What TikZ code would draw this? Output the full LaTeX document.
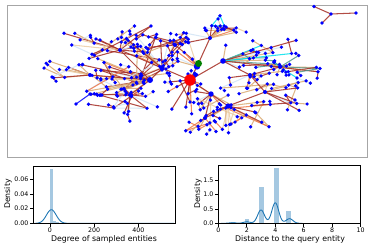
\documentclass[tikz,border=0pt]{standalone}
\usepackage{fontspec}
\setmainfont{DejaVu Sans}
\definecolor{ebrown}{RGB}{165,45,35}
\definecolor{etan}{RGB}{218,170,115}
\definecolor{elt}{RGB}{235,205,165}
\definecolor{eorange}{RGB}{240,120,70}
\definecolor{eteal}{RGB}{80,150,140}
\definecolor{ecyan}{RGB}{0,225,235}
\definecolor{eblue}{RGB}{210,228,245}
\definecolor{cz}{RGB}{31,119,180}
\definecolor{cbar}{RGB}{165,200,225}
\definecolor{gnode}{RGB}{0,128,0}
\begin{document}
\begin{tikzpicture}[x=1pt,y=-1pt,
  edge/.style={line width=1.05pt,draw opacity=0.85},
  dot/.style={circle,fill=blue,inner sep=0pt,minimum size=3.7pt},
  spine/.style={line width=0.6pt},
  ticks/.style={font=\fontsize{6.3}{7}\selectfont},
  lab/.style={font=\fontsize{7.8}{9}\selectfont}]
\useasboundingbox (0,0) rectangle (371,247);
\draw[gray!70,line width=0.9pt] (7,5) rectangle (367,157);
\pgfmathdeclarerandomlist{pal0}{{ebrown}{ebrown}{ebrown}{ebrown}{ebrown}{ebrown}{ebrown}{etan}{etan}{etan}{etan}{etan}{etan}{etan}{elt}{elt}{eorange}{eblue}{eblue}}
\pgfmathdeclarerandomlist{pal1}{{ebrown}{ebrown}{ebrown}{etan}{etan}{etan}{eteal}{eteal}{eteal}{eteal}{ecyan}{ecyan}{eblue}{eblue}}
\pgfmathdeclarerandomlist{pal2}{{ebrown}{ebrown}{ebrown}{ebrown}{etan}{etan}{etan}{eorange}{eorange}{eorange}{eorange}{elt}{elt}{eblue}}
\pgfmathsetseed{31}
\def\hublist{A/150/80/115/80/34/55/22/0,
 B/162/68/140/58/26/40/24/0,
 C/190/80/190/88/16/25/24/0,
 N/197/66.5/180/50/10/20/15/0,
 D/210/38/212/29/14/28/4/0,
 E/223/61/262/52/20/40/14/1,
 F/211/94/205/106/14/25/20/0,
 G/228/106/235/120/20/35/20/2,
 H/280/67/292/66/18/32/14/1,
 I/120/50/105/46/18/45/18/0,
 J/130/95/120/100/18/38/14/0,
 K/90/75/58/74/10/22/14/0,
 L/175/45/165/40/12/28/12/0,
 M/265/92/285/98/12/35/14/0,
 O/250/75/250/80/12/35/12/0,
 P/205/118/200/130/8/25/10/2}
% edges: each leaf hangs from the hub or from an earlier leaf of its group
\foreach \h/\hx/\hy/\cx/\cy/\n/\sx/\sy/\p in \hublist {
  \coordinate (h\h) at (\hx,\hy);
  \foreach \j in {1,...,\n}{
    \pgfmathsetmacro\px{max(36,min(320,\cx+\sx*(rand+rand)*0.65))}
    \pgfmathsetmacro\py{max(26,min(142,\cy+\sy*(rand+rand)*0.65))}
    \pgfmathrandomitem{\ec}{pal\p}
    \coordinate (l\h-\j) at (\px,\py);
    \pgfmathsetmacro\rr{rnd}
    \def\prt{h\h}
    \ifnum\j>1
      \ifdim\rr pt>0.6pt
        \pgfmathtruncatemacro\jm{\j-1}
        \pgfmathrandominteger{\kk}{1}{\jm}
        \edef\prt{l\h-\kk}
      \fi
    \fi
    \draw[edge,draw=\ec] (\prt) -- (l\h-\j);
  }
  \foreach \j in {3,6,...,\n}{
    \pgfmathsetmacro\qx{12*rand}
    \pgfmathsetmacro\qy{8*rand}
    \pgfmathrandomitem{\ec}{pal\p}
    \path (l\h-\j) ++(\qx,\qy) coordinate (s\h-\j);
    \draw[edge,draw=\ec] (l\h-\j) -- (s\h-\j);
  }
}
% hub to hub edges
\foreach \a/\b in {A/B,B/C,C/N,N/D,C/E,C/F,F/G,E/H,E/O,O/H,O/M,G/M,A/J,A/I,B/L,K/A,I/B,L/D,F/P,G/P}
  \draw[edge,draw=ebrown] (h\a) -- (h\b);
% special small structures
\coordinate (t1) at (220,15.7);
\coordinate (t2) at (211.7,25.7);
\coordinate (t3) at (224.3,26);
\draw[edge,draw=ecyan] (t1) -- (t2) -- (t3) -- cycle;
\draw[edge,draw=ebrown] (t2) -- (hD);
\draw[edge,draw=etan] (t3) -- (hD);
\coordinate (b1) at (76,104);
\coordinate (b2) at (90,94);
\draw[edge,draw=blue] (b1) -- (b2);
\coordinate (q1) at (314,6.5);
\coordinate (q2) at (331,14);
\coordinate (q3) at (356,13);
\coordinate (q4) at (322,23);
\draw[edge,draw=ebrown] (q2) -- (q1) (q2) -- (q3) (q2) -- (q4);
% dots
\foreach \h/\hx/\hy/\cx/\cy/\n/\sx/\sy/\p in \hublist {
  \foreach \j in {1,...,\n} \node[dot] (d\h-\j) at (l\h-\j) {};
  \foreach \j in {3,6,...,\n} \node[dot] (e\h-\j) at (s\h-\j) {};
}
\foreach \c in {t1,t2,t3,b1,b2,q1,q2,q3,q4} \node[dot] (n\c) at (\c) {};
\foreach \h/\s in {A/6,B/5.2,D/4,E/5.6,F/5.4,G/5.2,H/4,I/4,J/4,K/4,L/4,M/4,O/4,P/4,N/6.4}
  \node[dot,minimum size=\s pt] (n\h) at (h\h) {};
\node[circle,fill=gnode,inner sep=0pt,minimum size=7pt] (green) at (198.5,63.5) {};
\node[circle,fill=red,inner sep=0pt,minimum size=11.5pt] (nC) at (hC) {};
% ---------- left histogram ----------
\begin{scope}[shift={(50,223.3)},x=0.221pt,y=735pt]
  \fill[cbar] (-2,0) rectangle (12,0.074);
  \fill[cbar] (12,0) rectangle (26,0.0035);
  \fill[cbar] (26,0) rectangle (40,0.0012);
  \draw[cz,line width=0.9pt] plot[domain=-70:80,samples=90] (\x,{0.0185*exp(max(-9,-((\x-6)^2)/968))}) -- (560,0.0001);
  \draw[spine] (-75.6,0) rectangle (568,0.0776);
  \foreach \t [count=\i] in {0,200,400}
    \draw[spine] (\t,0) -- ++(0pt,-3.5pt) node[below,ticks,inner sep=1pt] (ax\i) {\t};
  \foreach \v/\l [count=\i] in {0/0.00,0.02/0.02,0.04/0.04,0.06/0.06}
    \draw[spine] (-75.6,\v) -- ++(-3.5pt,0pt) node[left,ticks,inner sep=1pt] (ay\i) {\l};
\end{scope}
\node[lab] (xlabL) at (104,239.5) {Degree of sampled entities};
\node[lab,rotate=90] (ylabL) at (8,194) {Density};
% ---------- right histogram ----------
\begin{scope}[shift={(218.3,223.3)},x=14.24pt,y=28.9pt]
  \fill[cbar] (0.9,0) rectangle (1.2,0.03);
  \fill[cbar] (1.88,0) rectangle (2.18,0.16);
  \fill[cbar] (2.88,0) rectangle (3.22,1.25);
  \fill[cbar] (3.93,0) rectangle (4.28,1.9);
  \fill[cbar] (4.77,0) rectangle (5.1,0.43);
  \draw[cz,line width=0.9pt] plot[domain=0.2:5.9,samples=160] (\x,{1.662*(0.012*exp(max(-9,-((\x-1)^2)/0.1152))+0.03*exp(max(-9,-((\x-2)^2)/0.1152))+0.277*exp(max(-9,-((\x-3)^2)/0.1152))+0.427*exp(max(-9,-((\x-4)^2)/0.1152))+0.096*exp(max(-9,-((\x-5)^2)/0.1152)))});
  \draw[spine] (0,0) rectangle (10,1.99);
  \foreach \t [count=\i] in {0,2,4,6,8,10}
    \draw[spine] (\t,0) -- ++(0pt,-3.5pt) node[below,ticks,inner sep=1pt] (bx\i) {\t};
  \foreach \v/\l [count=\i] in {0/0.0,0.5/0.5,1/1.0,1.5/1.5}
    \draw[spine] (0,\v) -- ++(-3.5pt,0pt) node[left,ticks,inner sep=1pt] (by\i) {\l};
\end{scope}
\node[lab] (xlabR) at (290,239.5) {Distance to the query entity};
\node[lab,rotate=90] (ylabR) at (198,194) {Density};
\end{tikzpicture}
\end{document}
